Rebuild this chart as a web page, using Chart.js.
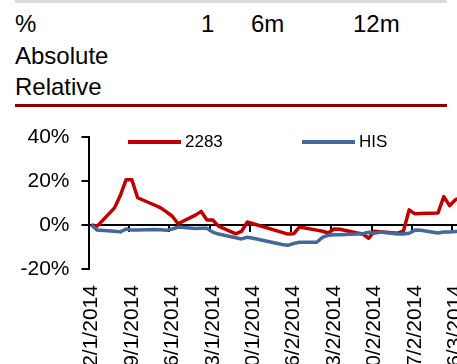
<!DOCTYPE html>
<html lang="en">

<head>
  <meta charset="UTF-8">
  <title>2283 vs HIS</title>
  <style>
    html,
    body {
      margin: 0;
      padding: 0;
      width: 457px;
      height: 364px;
      overflow: hidden;
      background: #fff;
    }

    body {
      position: relative;
      font-family: "Liberation Sans", Arial, sans-serif;
      color: #000;
    }

    .topbar {
      position: absolute;
      left: 15px;
      top: 0;
      width: 432px;
      height: 3px;
      background: #dcdcdc;
    }

    .cell {
      position: absolute;
      font-size: 24px;
      line-height: 31.5px;
      white-space: nowrap;
    }

    .rule {
      position: absolute;
      left: 15px;
      top: 104px;
      width: 432px;
      height: 3px;
      background: #8b0000;
    }

    #chartBox {
      position: absolute;
      left: 0;
      top: 110px;
    }

    .legend-item {
      position: absolute;
      top: 132px;
      display: flex;
      align-items: center;
      font-size: 17px;
      line-height: 20px;
      white-space: nowrap;
    }

    .legend-item .swatch {
      display: inline-block;
      width: 53px;
      height: 4px;
      margin-right: 4px;
    }
  </style>
  <script src="https://cdn.jsdelivr.net/npm/chart.js"></script>
</head>

<body>
  <div class="topbar"></div>
  <div class="cell" style="left:15px; top:8px">%</div>
  <div class="cell" style="left:201px; top:8px">1</div>
  <div class="cell" style="left:251px; top:8px">6m</div>
  <div class="cell" style="left:353px; top:8px">12m</div>
  <div class="cell" style="left:15px; top:39.5px">Absolute</div>
  <div class="cell" style="left:15px; top:71px">Relative</div>
  <div class="rule"></div>

  <canvas id="chartBox" width="537" height="290"></canvas>
  <div id="legend"></div>

  <script>
    // trading days (d/m/yyyy)
    const dates = [
      '2/1/2014', '3/1/2014', '6/1/2014', '7/1/2014', '8/1/2014', '9/1/2014', '10/1/2014',
      '13/1/2014', '14/1/2014', '15/1/2014', '16/1/2014', '17/1/2014',
      '20/1/2014', '21/1/2014', '22/1/2014', '23/1/2014', '24/1/2014',
      '27/1/2014', '28/1/2014', '29/1/2014', '30/1/2014',
      '4/2/2014', '5/2/2014', '6/2/2014', '7/2/2014',
      '10/2/2014', '11/2/2014', '12/2/2014', '13/2/2014', '14/2/2014',
      '17/2/2014', '18/2/2014', '19/2/2014', '20/2/2014', '21/2/2014',
      '24/2/2014', '25/2/2014', '26/2/2014', '27/2/2014', '28/2/2014',
      '3/3/2014', '4/3/2014', '5/3/2014', '6/3/2014', '7/3/2014'
    ];

    // % change since 2/1/2014
    const stock2283 = [
      0, -0.5, 7.8, 13.4, 20.6, 20.6, 12.4,
      9.0, 7.8, 6.0, 4.0, 0.6,
      4.5, 6.2, 2.3, 2.3, -0.5,
      -4.0, -2.8, 1.4, 0.6,
      -3.3, -4.1, -4.0, -0.9,
      -2.3, -2.8, -3.6, -1.8, -1.9,
      -3.6, -4.1, -6.0, -2.8, -3.0,
      -3.7, -2.8, 6.9, 5.1, 5.2,
      5.5, 12.9, 8.8, 11.5, 12.5
    ];
    const indexHIS = [
      0, -2.3, -2.8, -3.1, -1.8, -2.3, -2.2,
      -2.0, -2.1, -2.4, -1.8, -0.9,
      -1.6, -1.4, -1.5, -3.2, -4.1,
      -5.8, -6.3, -5.5, -6.0,
      -8.8, -9.2, -8.4, -7.8,
      -7.8, -5.6, -4.6, -4.4, -4.4,
      -4.1, -3.9, -3.3, -3.7, -3.2,
      -4.1, -4.1, -3.7, -2.3, -2.4,
      -3.6, -3.2, -3.2, -2.9, -2.8
    ];

    const xTickLabels = [
      '2/1/2014', '9/1/2014', '16/1/2014', '23/1/2014', '30/1/2014',
      '6/2/2014', '13/2/2014', '20/2/2014', '27/2/2014', '6/3/2014', '13/3/2014'
    ];
    const yTicks = [-20, 0, 20, 40];

    // days since the first date
    function dayOf(s) {
      const [d, m, y] = s.split('/').map(Number);
      return (Date.UTC(y, m - 1, d) - Date.UTC(2014, 0, 2)) / 86400000;
    }
    // each value sits in the middle of its day, like an Excel date axis
    const toPoints = vals => vals.map((v, i) => ({ x: dayOf(dates[i]) + 0.5, y: v }));

    const xMax = 72;

    Chart.defaults.font.family = '"Liberation Sans", Arial, sans-serif';
    Chart.defaults.color = '#000';

    const chart = new Chart(document.getElementById('chartBox'), {
      type: 'line',
      data: {
        datasets: [{
          label: '2283',
          data: toPoints(stock2283),
          borderColor: '#c00000',
          backgroundColor: '#c00000',
          borderWidth: 3.5,
          pointRadius: 0,
          borderJoinStyle: 'round',
          order: 1
        }, {
          label: 'HIS',
          data: toPoints(indexHIS),
          borderColor: '#43699c',
          backgroundColor: '#43699c',
          borderWidth: 3.5,
          pointRadius: 0,
          borderJoinStyle: 'round',
          order: 0
        }]
      },
      options: {
        responsive: false,
        animation: false,
        layout: { padding: { left: 8.5, top: 27, right: 0, bottom: 5.5 } },
        plugins: {
          legend: { display: false },
          tooltip: { enabled: false }
        },
        scales: {
          // zero line with its tick marks
          x: {
            type: 'linear',
            position: { y: 0 },
            min: 0,
            max: xMax,
            afterBuildTicks: s => { s.ticks = xTickLabels.map(l => ({ value: dayOf(l) })); },
            ticks: { display: false },
            grid: { drawOnChartArea: false, color: '#000', lineWidth: 2, tickLength: 6 },
            border: { color: '#000', width: 2 }
          },
          // date labels under the plot
          xl: {
            type: 'linear',
            axis: 'x',
            position: 'bottom',
            min: 0,
            max: xMax,
            afterBuildTicks: s => { s.ticks = xTickLabels.map(l => ({ value: dayOf(l) + 0.5 })); },
            ticks: {
              autoSkip: false,
              maxRotation: 90,
              minRotation: 90,
              padding: 16,
              font: { size: 21 },
              callback: (v, i) => xTickLabels[i]
            },
            grid: { display: false, drawTicks: false },
            border: { display: false }
          },
          y: {
            min: -20,
            max: 40,
            afterBuildTicks: s => { s.ticks = yTicks.map(v => ({ value: v })); },
            ticks: {
              padding: 12,
              font: { size: 21 },
              callback: v => v + '%'
            },
            grid: { drawOnChartArea: false, color: '#000', lineWidth: 2, tickLength: 7 },
            border: { color: '#000', width: 2 }
          }
        }
      }
    });

    // legend as html, laid over the top of the plot
    const legendLeft = [128, 302];
    const legendEl = document.getElementById('legend');
    chart.data.datasets.forEach((ds, i) => {
      const item = document.createElement('div');
      item.className = 'legend-item';
      item.style.left = legendLeft[i] + 'px';
      const sw = document.createElement('span');
      sw.className = 'swatch';
      sw.style.background = ds.borderColor;
      item.appendChild(sw);
      item.appendChild(document.createTextNode(ds.label));
      legendEl.appendChild(item);
    });
  </script>
</body>

</html>
